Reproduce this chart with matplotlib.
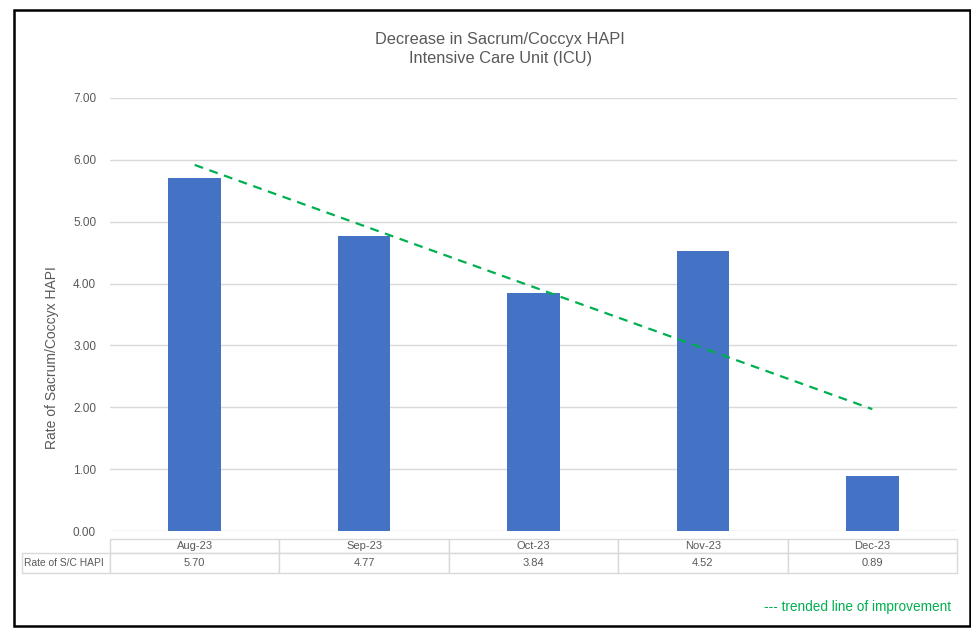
import numpy as np
import matplotlib.pyplot as plt
from matplotlib.table import Table
from matplotlib.patches import Rectangle

# dados do gráfico
meses = ['Aug-23', 'Sep-23', 'Oct-23', 'Nov-23', 'Dec-23']
taxa_hapi = [5.70, 4.77, 3.84, 4.52, 0.89]
rotulo_linha = 'Rate of S/C HAPI'
titulo = 'Decrease in Sacrum/Coccyx HAPI\nIntensive Care Unit (ICU)'
rotulo_y = 'Rate of Sacrum/Coccyx HAPI'
legenda_tendencia = '--- trended line of improvement'

cinza = '#595959'
azul = '#4472c4'
verde = '#00b050'
borda = '#d9d9d9'

plt.rcParams['font.family'] = ['Liberation Sans', 'DejaVu Sans']

W, H = 971, 628
fig = plt.figure(figsize=(W / 100, H / 100), dpi=100)
fig.patch.set_facecolor('white')

# moldura preta em volta do gráfico
fig.add_artist(Rectangle((14 / W, 2 / H), 956 / W, 616 / H, transform=fig.transFigure,
                         fill=False, edgecolor='black', linewidth=1.8))

ax = fig.add_axes([110 / W, (H - 531) / H, 847 / W, 433 / H])
x = np.arange(len(meses))
ax.bar(x, taxa_hapi, width=0.31, color=azul, zorder=3)

# linha de tendência linear
coef = np.polyfit(x, taxa_hapi, 1)
ax.plot(x, np.polyval(coef, x), color=verde, linewidth=1.6, linestyle=(0, (4, 3)), zorder=4)

ax.set_xlim(-0.5, len(meses) - 0.5)
ax.set_ylim(0, 7)
ax.set_yticks(np.arange(0, 8, 1))
ax.set_yticklabels([f'{v:.2f}' for v in np.arange(0, 8, 1)])
ax.tick_params(axis='y', length=0, pad=10, labelsize=8.5, labelcolor=cinza)
ax.set_xticks([])
ax.grid(axis='y', color=borda, linewidth=1, zorder=0)
for s in ax.spines.values():
    s.set_visible(False)

ax.set_ylabel(rotulo_y, fontsize=10, color=cinza)
ax.yaxis.set_label_coords(-51 / 847, 0.4)
fig.text(500 / W, 1 - 49 / H, titulo, ha='center', va='center', fontsize=11.8,
         color=cinza, linespacing=1.3)

# tabela de dados abaixo do eixo
tab = Table(ax, bbox=[-88 / 847, -42 / 433, 935 / 847, 34 / 433])
alt_cab, alt_val = 14, 20
for j, m in enumerate(meses):
    c = tab.add_cell(0, j + 1, width=1, height=alt_cab, text=m, loc='center')
    c.set_edgecolor(borda)
    c.get_text().set_color(cinza)
    c.get_text().set_fontsize(8)
    c = tab.add_cell(1, j + 1, width=1, height=alt_val, text=f'{taxa_hapi[j]:.2f}', loc='center')
    c.set_edgecolor(borda)
    c.get_text().set_color(cinza)
    c.get_text().set_fontsize(8)
c = tab.add_cell(1, 0, width=88 / 169.4, height=alt_val, text=rotulo_linha, loc='left')
c.set_edgecolor(borda)
c.PAD = 0.02
c.get_text().set_color(cinza)
c.get_text().set_fontsize(7.4)
tab.auto_set_font_size(False)
ax.add_table(tab)

fig.text(951 / W, 1 - 607 / H, legenda_tendencia, ha='right', va='center', fontsize=9.8, color=verde)

fig.savefig('out.png', dpi=100)
